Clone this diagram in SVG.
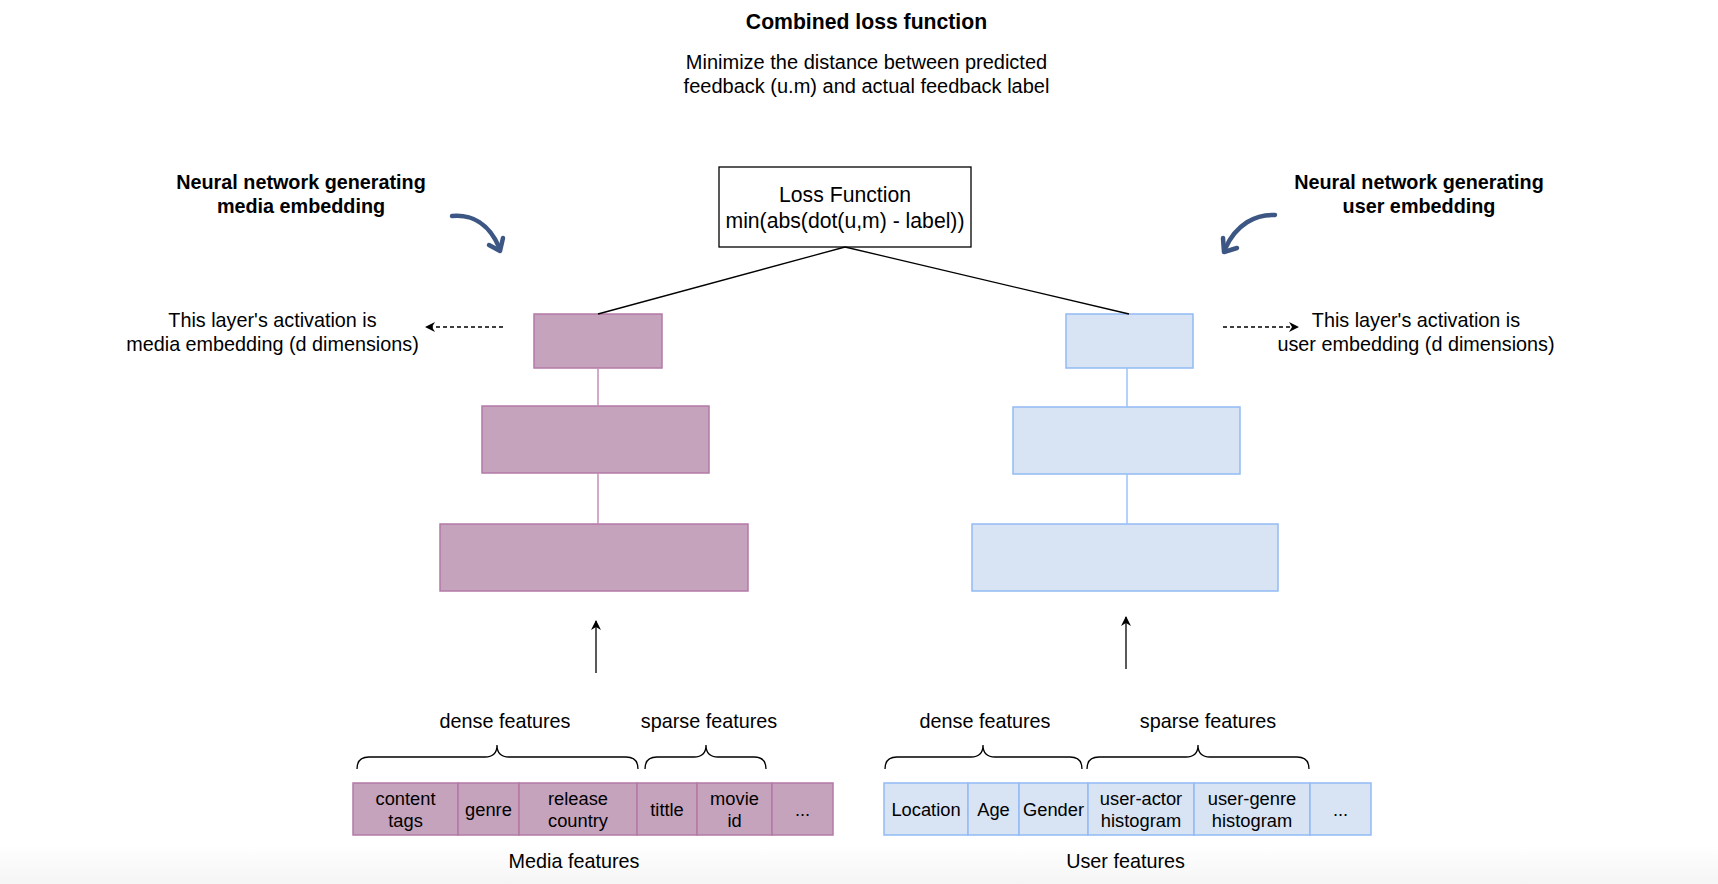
<svg xmlns="http://www.w3.org/2000/svg" width="1718" height="884" viewBox="0 0 1718 884">
<defs>
<linearGradient id="bg" x1="0" y1="0" x2="0" y2="1"><stop offset="0" stop-color="#ffffff"/><stop offset="1" stop-color="#f5f5f5"/></linearGradient>
<marker id="ah" viewBox="0 0 10 10" refX="9" refY="5" markerWidth="10" markerHeight="10" markerUnits="userSpaceOnUse" orient="auto"><path d="M0,0 L10,5 L0,10 L3,5 Z" fill="#000"/></marker>
</defs>
<style>
text{font-family:"Liberation Sans",Arial,Helvetica,sans-serif;fill:#000;text-anchor:middle}
.t{font-size:19.8px}
.b{font-size:19.8px;font-weight:bold}
.c{font-size:18.3px}
.media{fill:#c5a3bc;stroke:#b37aa6;stroke-width:1.5}
.user{fill:#d8e3f4;stroke:#92bbf5;stroke-width:1.5}
.mline{stroke:#c68fb7;stroke-width:1.5;fill:none}
.uline{stroke:#9cc3f7;stroke-width:1.5;fill:none}
.edge{stroke:#000;stroke-width:1.3;fill:none}
.dash{stroke:#000;stroke-width:1.3;fill:none;stroke-dasharray:4 3}
.brace{stroke:#000;stroke-width:1.3;fill:none}
.curve{stroke:#3d5784;stroke-width:4.5;fill:none;stroke-linecap:round;stroke-linejoin:round}
</style>
<rect x="0" y="0" width="1718" height="884" fill="#fff"/>
<rect x="0" y="845" width="1718" height="39" fill="url(#bg)"/>

<g id="title">
<text class="b" x="866.5" y="28.5" style="font-size:21.2px">Combined loss function</text>
<text class="t" x="866.5" y="69" style="font-size:20px">Minimize the distance between predicted</text>
<text class="t" x="866.5" y="92.5" style="font-size:20px">feedback (u.m) and actual feedback label</text>
</g>

<g id="loss">
<rect x="719" y="167" width="252" height="80" fill="#fff" stroke="#000" stroke-width="1.3"/>
<text class="t" x="845" y="202" style="font-size:21.2px">Loss Function</text>
<text class="t" x="845" y="228" style="font-size:21.2px">min(abs(dot(u,m) - label))</text>
</g>

<g id="media-label">
<text class="b" x="301" y="189">Neural network generating</text>
<text class="b" x="301" y="212.5">media embedding</text>
</g>
<g id="user-label">
<text class="b" x="1419" y="189">Neural network generating</text>
<text class="b" x="1419" y="212.5">user embedding</text>
</g>

<g id="media-activation">
<text class="t" x="272.5" y="327">This layer's activation is</text>
<text class="t" x="272.5" y="351">media embedding (d dimensions)</text>
</g>
<g id="user-activation">
<text class="t" x="1416" y="327">This layer's activation is</text>
<text class="t" x="1416" y="351">user embedding (d dimensions)</text>
</g>

<g id="media-layer1"><rect class="media" x="534" y="314" width="128" height="54"/></g>
<g id="media-layer2"><rect class="media" x="482" y="406" width="227" height="67"/></g>
<g id="media-layer3"><rect class="media" x="440" y="524" width="308" height="67"/></g>
<g id="user-layer1"><rect class="user" x="1066" y="314" width="127" height="54"/></g>
<g id="user-layer2"><rect class="user" x="1013" y="407" width="227" height="67"/></g>
<g id="user-layer3"><rect class="user" x="972" y="524" width="306" height="67"/></g>

<g id="connectors">
<path class="edge" d="M845,247 L598,314"/>
<path class="edge" d="M845,247 L1129,314"/>
<path class="mline" d="M598,368 L598,406 M598,473 L598,524"/>
<path class="uline" d="M1127,368 L1127,407 M1127,474 L1127,524"/>
<path class="dash" d="M503,327 L426,327" marker-end="url(#ah)"/>
<path class="dash" d="M1223,327 L1298,327" marker-end="url(#ah)"/>
<path class="edge" d="M596,673 L596,621" stroke="#333" marker-end="url(#ah)"/>
<path class="edge" d="M1126,669 L1126,617" stroke="#333" marker-end="url(#ah)"/>
<path class="curve" d="M452,216 C472,214 489,224 499,247"/>
<path class="curve" d="M489,245 L500,251 L503,238"/>
<path class="curve" d="M1275,215 C1256,214 1236,224 1225,249"/>
<path class="curve" d="M1223,238 L1224,252 L1237,248"/>
</g>

<g id="media-braces">
<path class="brace" d="M357,769 Q357,757 369,757 L485,757 Q497,757 497,745 Q497,757 509,757 L626,757 Q638,757 638,769"/>
<path class="brace" d="M645,769 Q645,757 657,757 L694,757 Q706,757 706,745 Q706,757 718,757 L754,757 Q766,757 766,769"/>
<text class="t" x="505" y="728">dense features</text>
<text class="t" x="709" y="728">sparse features</text>
</g>
<g id="user-braces">
<path class="brace" d="M885,769 Q885,757 897,757 L971,757 Q983,757 983,745 Q983,757 995,757 L1070,757 Q1082,757 1082,769"/>
<path class="brace" d="M1087,769 Q1087,757 1099,757 L1186,757 Q1198,757 1198,745 Q1198,757 1210,757 L1297,757 Q1309,757 1309,769"/>
<text class="t" x="985" y="728">dense features</text>
<text class="t" x="1208" y="728">sparse features</text>
</g>

<g id="media-features">
<rect class="media" x="353" y="783" width="105" height="52"/>
<rect class="media" x="458" y="783" width="61" height="52"/>
<rect class="media" x="519" y="783" width="118" height="52"/>
<rect class="media" x="637" y="783" width="60" height="52"/>
<rect class="media" x="697" y="783" width="75" height="52"/>
<rect class="media" x="772" y="783" width="61" height="52"/>
<text class="c" x="405.5" y="805">content</text>
<text class="c" x="405.5" y="827">tags</text>
<text class="c" x="488.5" y="816">genre</text>
<text class="c" x="578" y="805">release</text>
<text class="c" x="578" y="827">country</text>
<text class="c" x="667" y="816">tittle</text>
<text class="c" x="734.5" y="805">movie</text>
<text class="c" x="734.5" y="827">id</text>
<text class="c" x="802.5" y="816">...</text>
<text class="t" x="574" y="868">Media features</text>
</g>

<g id="user-features">
<rect class="user" x="884" y="783" width="84" height="52"/>
<rect class="user" x="968" y="783" width="51" height="52"/>
<rect class="user" x="1019" y="783" width="69" height="52"/>
<rect class="user" x="1088" y="783" width="106" height="52"/>
<rect class="user" x="1194" y="783" width="116" height="52"/>
<rect class="user" x="1310" y="783" width="61" height="52"/>
<text class="c" x="926" y="816">Location</text>
<text class="c" x="993.5" y="816">Age</text>
<text class="c" x="1053.5" y="816">Gender</text>
<text class="c" x="1141" y="805">user-actor</text>
<text class="c" x="1141" y="827">histogram</text>
<text class="c" x="1252" y="805">user-genre</text>
<text class="c" x="1252" y="827">histogram</text>
<text class="c" x="1340.5" y="816">...</text>
<text class="t" x="1125.5" y="868">User features</text>
</g>
</svg>
